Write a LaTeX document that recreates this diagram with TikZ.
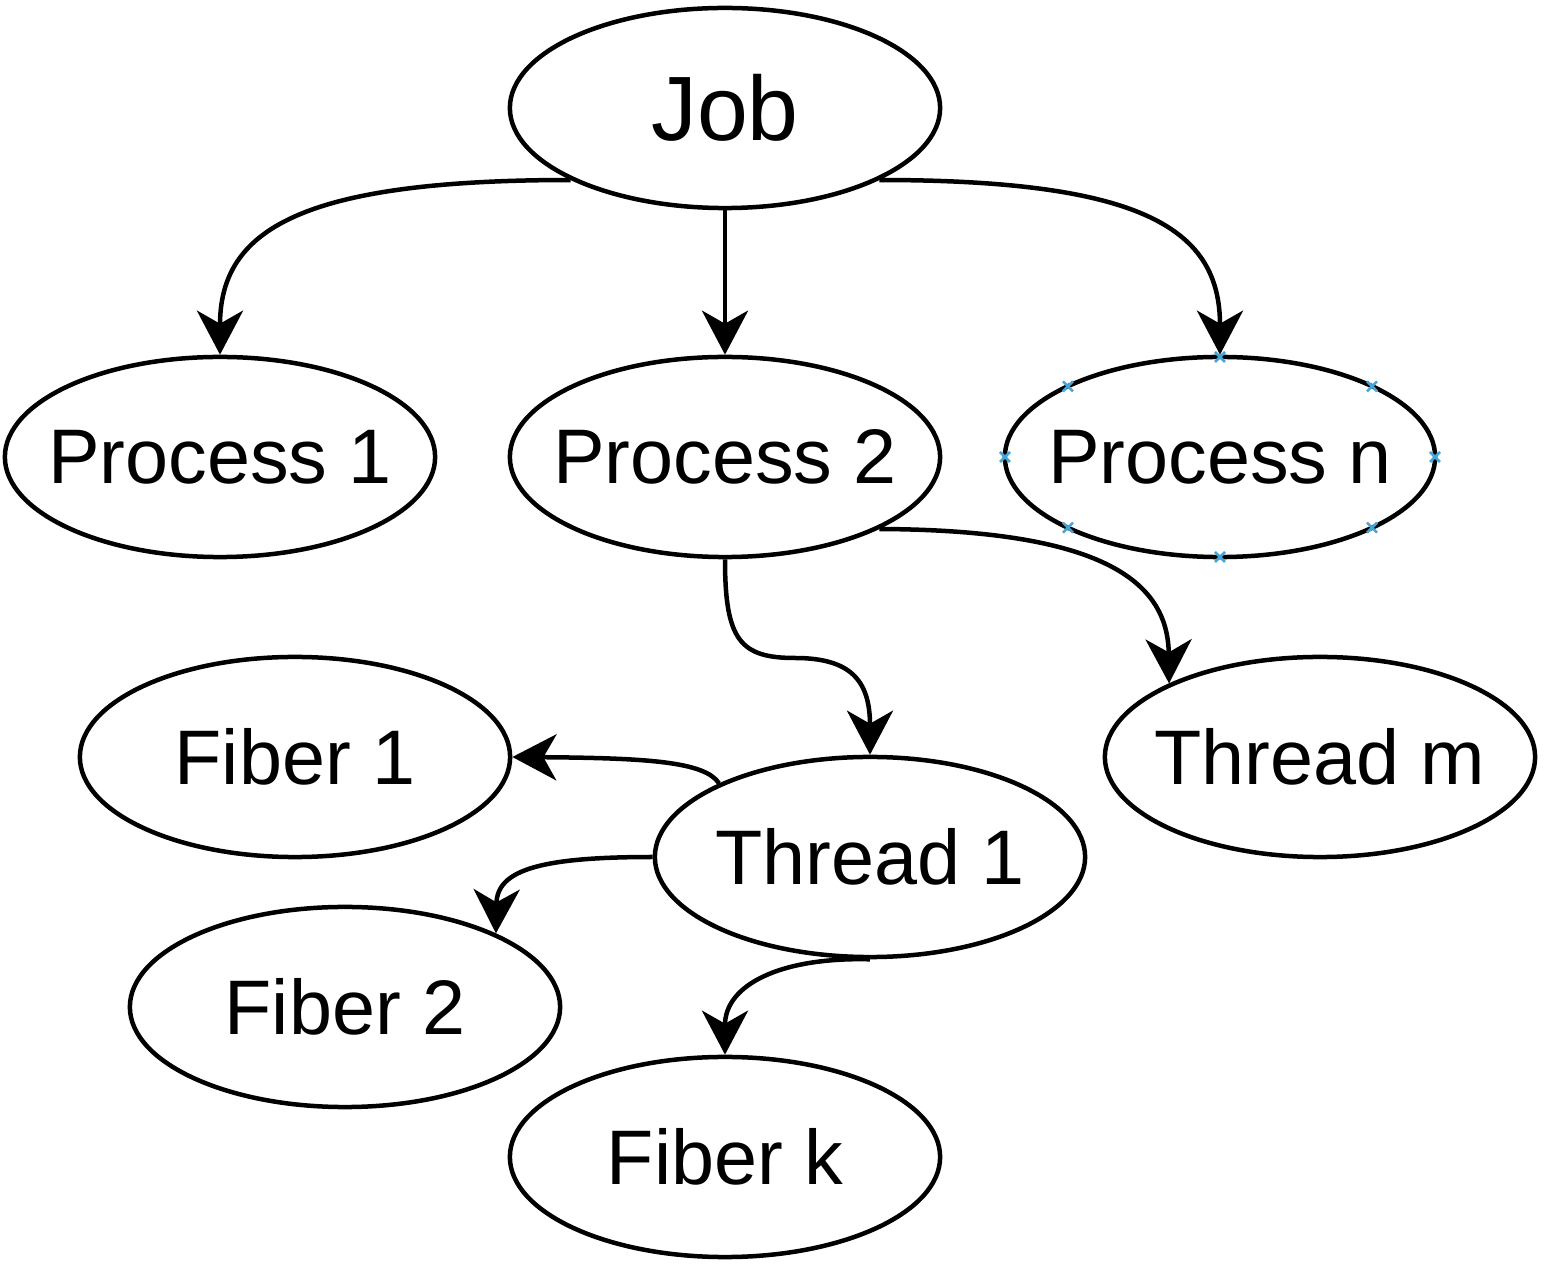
\documentclass[tikz,border=0pt]{standalone}
\usepackage{fontspec}
\setmainfont{Liberation Sans}
\usetikzlibrary{shapes.geometric,arrows.meta}
\definecolor{markblue}{RGB}{70,165,215}

\begin{document}
\begin{tikzpicture}[x=0.01cm, y=-0.01cm,
  unit/.style={draw, ellipse, line width=0.045cm, minimum width=4.3cm,
    minimum height=2cm, inner xsep=-0.8cm, inner ysep=0pt,
    font=\fontsize{22}{26}\selectfont},
  link/.style={line width=0.045cm, -{Stealth[length=0.44cm, width=0.46cm, inset=0.13cm]}}]
\useasboundingbox (0,0) rectangle (1544,1264);

\node[unit, font=\fontsize{26}{30}\selectfont] (job) at (725,108) {Job};
\node[unit] (p1) at (220,457) {Process 1};
\node[unit] (p2) at (725,457) {Process 2};
\node[unit] (pn) at (1220,457) {Process n};
\node[unit] (tm) at (1320,757) {Thread m};
\node[unit] (f1) at (295,757) {Fiber 1};
\node[unit] (t1) at (870,857) {Thread 1};
\node[unit] (f2) at (345,1007) {Fiber 2};
\node[unit] (fk) at (725,1157) {Fiber k};

% connection marks on Process n
\foreach \a in {0,45,...,315} {
  \draw[markblue, line width=0.025cm] (pn.center) ++(\a:215 and 100)
    +(-5,-5) -- +(5,5) +(-5,5) -- +(5,-5);
}

\draw[link] (job.205) .. controls (300,180) and (220,230) .. (p1.north);
\draw[link] (job.south) -- (p2.north);
\draw[link] (job.-25) .. controls (1145,180) and (1220,230) .. (pn.north);
\draw[link] (p2.-25) .. controls (1100,530) and (1168,580) .. (tm.154);
\draw[link] (p2.south) .. controls (725,640) and (740,658) .. (795,658)
  .. controls (850,658) and (870,680) .. (t1.north);
\draw[link] (t1.154) .. controls (705,762) and (650,758) .. (f1.east);
\draw[link] (t1.west) .. controls (540,857) and (497,870) .. (f2.26);
\draw[link] (t1.south) .. controls (780,957) and (725,985) .. (fk.north);

\end{tikzpicture}
\end{document}
